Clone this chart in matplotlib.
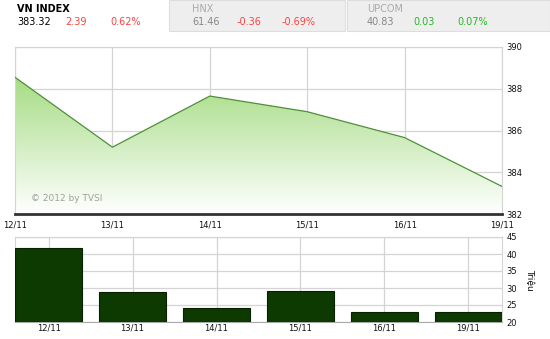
import matplotlib

matplotlib.use("Agg")
import matplotlib.pyplot as plt
import numpy as np
from matplotlib.patches import Rectangle, Polygon

# du lieu doc tu hinh
dates = ["12/11", "13/11", "14/11", "15/11", "16/11", "19/11"]
index_vals = [388.55, 385.20, 387.65, 386.90, 385.66, 383.32]
volume = [41.85, 28.8, 24.1, 29.0, 22.85, 22.85]
y_ticks_top = [382, 384, 386, 388, 390]
y_ticks_bot = [20, 25, 30, 35, 40, 45]

header = [
    ("VN INDEX", "383.32", "2.39", "0.62%"),
    ("HNX", "61.46", "-0.36", "-0.69%"),
    ("UPCOM", "40.83", "0.03", "0.07%"),
]

W, H = 550, 339
fig = plt.figure(figsize=(W / 100, H / 100), dpi=100)
fig.patch.set_facecolor("white")


def fx(px):
    return px / W


def fy(py):
    return 1 - py / H


# ---- header ----
for x0, x1 in [(169, 345), (347, 550)]:
    fig.patches.append(Rectangle((fx(x0), fy(31)), fx(x1 - x0), 31 / H,
                                 transform=fig.transFigure, facecolor="#eeeeee",
                                 edgecolor="#dddddd", lw=0.8))

RED, GREEN = "#ff4040", "#22bb22"
cols = [(17, 65, 110), (192, 237, 282), (367, 413, 457)]
for i, (name, val, chg, pct) in enumerate(header):
    xa, xb, xc = cols[i]
    ccol = RED if chg.startswith("-") or i == 0 else GREEN
    fig.text(fx(xa), fy(9), name, color="black" if i == 0 else "#aaaaaa", fontsize=7,
             fontweight="bold" if i == 0 else "normal", va="center")
    fig.text(fx(xa), fy(22), val, color="black" if i == 0 else "#888888",
             fontsize=7, va="center")
    fig.text(fx(xb), fy(22), chg, color=ccol, fontsize=7, va="center")
    fig.text(fx(xc), fy(22), pct, color=ccol, fontsize=7, va="center")

# ---- top chart ----
ax = fig.add_axes([fx(15), fy(214), fx(487), 167 / H])
x = np.arange(len(dates))
ax.set_xlim(0, len(dates) - 1)
ax.set_ylim(382, 390)

# gradient fill duoi duong
grad = np.linspace(0, 1, 256).reshape(-1, 1)
cmap = matplotlib.colors.LinearSegmentedColormap.from_list("g", ["#ffffff", "#a6dc84"])
img = ax.imshow(grad, extent=[0, len(dates) - 1, 382, max(index_vals)], origin="lower",
                aspect="auto", cmap=cmap, zorder=1)
poly = Polygon(list(zip(x, index_vals)) + [(x[-1], 382), (x[0], 382)],
               closed=True, facecolor="none", edgecolor="none")
ax.add_patch(poly)
img.set_clip_path(poly)
ax.plot(x, index_vals, color="#4f8f3a", lw=0.9, zorder=3)

ax.set_xticks(x)
ax.set_xticklabels(dates)
ax.set_yticks(y_ticks_top)
ax.yaxis.tick_right()
ax.grid(True, color="#d4d4d4", lw=0.9, zorder=0)
ax.set_axisbelow(True)
ax.tick_params(axis="both", length=0, labelsize=6, colors="#111111")
ax.tick_params(axis="x", pad=5)
ax.tick_params(axis="y", pad=3)
for s in ["top", "left", "right"]:
    ax.spines[s].set_color("#d4d4d4")
ax.spines["bottom"].set_color("#333333")
ax.spines["bottom"].set_linewidth(2)
ax.text(0.16, 382.75, "\u00a9 2012 by TVSI", color="#a0a0a0", fontsize=6.5,
        va="center", zorder=4)

# ---- bottom chart ----
bx = fig.add_axes([fx(15), fy(322), fx(487), 85 / H])
bx.bar(np.arange(len(dates)), [v - 20 for v in volume], bottom=20, width=0.8,
       color="#0c3a00", edgecolor="#062000", lw=0.8, zorder=3)
bx.set_xlim(-0.4, len(dates) - 0.6)
bx.set_ylim(20, 45)
bx.set_xticks(np.arange(len(dates)))
bx.set_xticklabels(dates)
bx.set_yticks(y_ticks_bot)
bx.yaxis.tick_right()
bx.grid(True, color="#d4d4d4", lw=0.9, zorder=0)
bx.set_axisbelow(True)
bx.tick_params(axis="both", length=0, labelsize=6, colors="#111111")
bx.tick_params(axis="x", pad=1)
bx.tick_params(axis="y", pad=3)
for s in ["top", "left", "right"]:
    bx.spines[s].set_color("#d4d4d4")
bx.spines["bottom"].set_color("#aaaaaa")
bx.yaxis.set_label_position("right")
bx.set_ylabel("Triệu", rotation=270, fontsize=6.5, color="#111111", labelpad=12)

plt.savefig("out.png", dpi=100)
